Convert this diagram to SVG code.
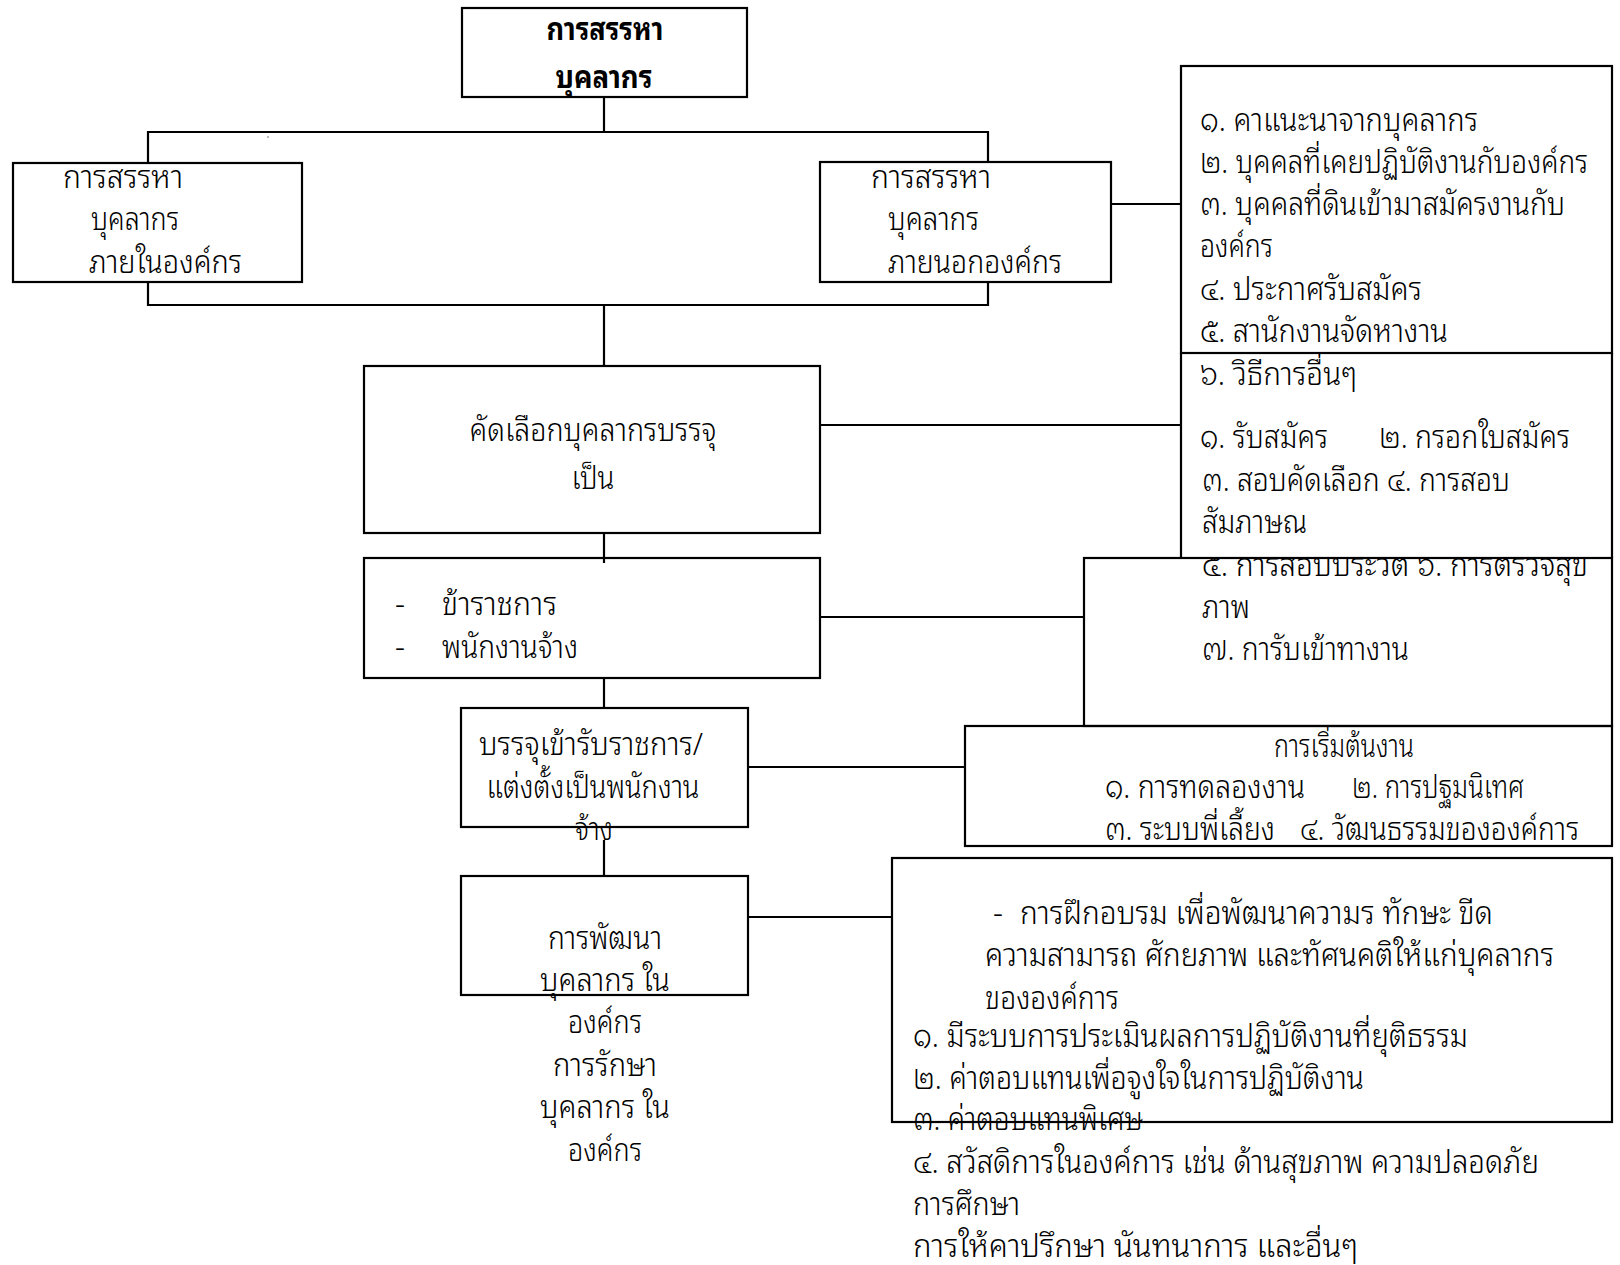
<svg xmlns="http://www.w3.org/2000/svg" width="1620" height="1265" viewBox="0 0 1620 1265">
  <style>
    .box { fill: none; stroke: #000; stroke-width: 2.2; }
    .ln { fill: none; stroke: #000; stroke-width: 2.2; }
    .t { font-family: "Noto Sans Thai Looped", "Noto Sans Thai", "Noto Sans", "DejaVu Sans", sans-serif; font-size: 31px; font-weight: 300; fill: #000; }
    .c { text-anchor: middle; }
    .b { font-weight: bold; }
  </style>
  <defs>
    <clipPath id="below-box3">
      <rect x="1180" y="559" width="440" height="40"/>
    </clipPath>
  </defs>
  <rect x="0" y="0" width="1620" height="1265" fill="#fff"/>

  <!-- connectors -->
  <g id="connectors">
    <path class="ln" d="M604 97 V132"/>
    <path class="ln" d="M148 163 V132 H988 V162"/>
    <path class="ln" d="M148 282 V305 H988 V282"/>
    <path class="ln" d="M604 305 V366"/>
    <path class="ln" d="M1111 204 H1181"/>
    <path class="ln" d="M820 425 H1181"/>
    <path class="ln" d="M604 533 V563"/>
    <path class="ln" d="M820 617 H1084"/>
    <path class="ln" d="M604 678 V708"/>
    <path class="ln" d="M748 767 H965"/>
    <path class="ln" d="M604 840 V876"/>
    <path class="ln" d="M748 917 H892"/>
    <rect x="267.5" y="136" width="1" height="2" fill="#777"/>
  </g>

  <!-- top: recruitment -->
  <g id="node-recruit">
    <rect class="box" x="462" y="8" width="285" height="89"/>
    <text class="t c b" x="605" y="40" textLength="117" lengthAdjust="spacingAndGlyphs">การสรรหา</text>
    <text class="t c b" x="604" y="88" textLength="97" lengthAdjust="spacingAndGlyphs">บุคลากร</text>
  </g>

  <!-- internal recruitment -->
  <g id="node-internal">
    <rect class="box" x="13" y="163" width="289" height="119"/>
    <text class="t" x="63" y="188" textLength="120" lengthAdjust="spacingAndGlyphs">การสรรหา</text>
    <text class="t" x="91" y="230" textLength="88" lengthAdjust="spacingAndGlyphs">บุคลากร</text>
    <text class="t" x="89" y="273" textLength="153" lengthAdjust="spacingAndGlyphs">ภายในองค์กร</text>
  </g>

  <!-- external recruitment -->
  <g id="node-external">
    <rect class="box" x="820" y="162" width="291" height="120"/>
    <text class="t" x="871" y="188" textLength="120" lengthAdjust="spacingAndGlyphs">การสรรหา</text>
    <text class="t" x="888" y="230" textLength="91" lengthAdjust="spacingAndGlyphs">บุคลากร</text>
    <text class="t" x="888" y="273" textLength="174" lengthAdjust="spacingAndGlyphs">ภายนอกองค์กร</text>
  </g>

  <!-- external sources list -->
  <g id="node-sources">
    <rect class="box" x="1181" y="66" width="431" height="287"/>
    <text class="t" x="1200" y="131" textLength="278" lengthAdjust="spacingAndGlyphs">๑. คาแนะนาจากบุคลากร</text>
    <text class="t" x="1200" y="173" textLength="388" lengthAdjust="spacingAndGlyphs">๒. บุคคลที่เคยปฏิบัติงานกับองค์กร</text>
    <text class="t" x="1200" y="215" textLength="365" lengthAdjust="spacingAndGlyphs">๓. บุคคลที่ดินเข้ามาสมัครงานกับ</text>
    <text class="t" x="1200" y="257" textLength="73" lengthAdjust="spacingAndGlyphs">องค์กร</text>
    <text class="t" x="1200" y="300" textLength="222" lengthAdjust="spacingAndGlyphs">๔. ประกาศรับสมัคร</text>
    <text class="t" x="1200" y="342" textLength="248" lengthAdjust="spacingAndGlyphs">๕. สานักงานจัดหางาน</text>
  </g>

  <!-- selection steps -->
  <g id="node-steps">
    <path class="box" d="M1181 353 V558 M1612 353 V558"/>
    <text class="t" x="1200" y="385" textLength="157" lengthAdjust="spacingAndGlyphs">๖. วิธีการอื่นๆ</text>
    <text class="t" x="1200" y="448" textLength="128" lengthAdjust="spacingAndGlyphs">๑. รับสมัคร</text>
    <text class="t" x="1379" y="448" textLength="191" lengthAdjust="spacingAndGlyphs">๒. กรอกใบสมัคร</text>
    <text class="t" x="1202" y="491" textLength="308" lengthAdjust="spacingAndGlyphs">๓. สอบคัดเลือก ๔. การสอบ</text>
    <text class="t" x="1202" y="533" textLength="105" lengthAdjust="spacingAndGlyphs">สัมภาษณ</text>
  </g>

  <!-- selection steps, continued -->
  <g id="node-steps-2">
    <rect class="box" x="1084" y="558" width="528" height="168"/>
    <text class="t" x="1202" y="576" textLength="386" lengthAdjust="spacingAndGlyphs" clip-path="url(#below-box3)">๕. การสอบประวัติ ๖. การตรวจสุข</text>
    <text class="t" x="1202" y="618" textLength="48" lengthAdjust="spacingAndGlyphs">ภาพ</text>
    <text class="t" x="1202" y="660" textLength="207" lengthAdjust="spacingAndGlyphs">๗. การับเข้าทางาน</text>
  </g>

  <!-- selection -->
  <g id="node-select">
    <rect class="box" x="364" y="366" width="456" height="167"/>
    <text class="t c" x="593" y="441" textLength="247" lengthAdjust="spacingAndGlyphs">คัดเลือกบุคลากรบรรจุ</text>
    <text class="t c" x="593" y="489" textLength="43" lengthAdjust="spacingAndGlyphs">เป็น</text>
  </g>

  <!-- staff types -->
  <g id="node-types">
    <rect class="box" x="364" y="558" width="456" height="120"/>
    <text class="t" x="395" y="615">-</text>
    <text class="t" x="442" y="615" textLength="115" lengthAdjust="spacingAndGlyphs">ข้าราชการ</text>
    <text class="t" x="395" y="658">-</text>
    <text class="t" x="442" y="658" textLength="136" lengthAdjust="spacingAndGlyphs">พนักงานจ้าง</text>
  </g>

  <!-- appointment -->
  <g id="node-appoint">
    <rect class="box" x="461" y="708" width="287" height="119"/>
    <text class="t c" x="591" y="755" textLength="224" lengthAdjust="spacingAndGlyphs">บรรจุเข้ารับราชการ/</text>
    <text class="t c" x="593" y="798" textLength="213" lengthAdjust="spacingAndGlyphs">แต่งตั้งเป็นพนักงาน</text>
    <text class="t c" x="594" y="840" textLength="38" lengthAdjust="spacingAndGlyphs">จ้าง</text>
  </g>

  <!-- onboarding -->
  <g id="node-onboard">
    <rect class="box" x="965" y="726" width="647" height="120"/>
    <text class="t c" x="1344" y="757" textLength="140" lengthAdjust="spacingAndGlyphs">การเริ่มต้นงาน</text>
    <text class="t" x="1105" y="798" textLength="200" lengthAdjust="spacingAndGlyphs">๑. การทดลองงาน</text>
    <text class="t" x="1352" y="798" textLength="172" lengthAdjust="spacingAndGlyphs">๒. การปฐมนิเทศ</text>
    <text class="t" x="1105" y="840" textLength="170" lengthAdjust="spacingAndGlyphs">๓. ระบบพี่เลี้ยง</text>
    <text class="t" x="1300" y="840" textLength="279" lengthAdjust="spacingAndGlyphs">๔. วัฒนธรรมขององค์การ</text>
  </g>

  <!-- development and retention -->
  <g id="node-develop">
    <rect class="box" x="461" y="876" width="287" height="119"/>
    <text class="t c" x="605" y="949" textLength="114" lengthAdjust="spacingAndGlyphs">การพัฒนา</text>
    <text class="t c" x="605" y="991" textLength="130" lengthAdjust="spacingAndGlyphs">บุคลากร ใน</text>
    <text class="t c" x="605" y="1033" textLength="74" lengthAdjust="spacingAndGlyphs">องค์กร</text>
    <text class="t c" x="605" y="1076" textLength="104" lengthAdjust="spacingAndGlyphs">การรักษา</text>
    <text class="t c" x="605" y="1118" textLength="130" lengthAdjust="spacingAndGlyphs">บุคลากร ใน</text>
    <text class="t c" x="605" y="1161" textLength="74" lengthAdjust="spacingAndGlyphs">องค์กร</text>
  </g>

  <!-- development and retention measures -->
  <g id="node-measures">
    <rect class="box" x="892" y="858" width="720" height="264"/>
    <text class="t" x="993" y="924">-</text>
    <text class="t" x="1020" y="924" textLength="473" lengthAdjust="spacingAndGlyphs">การฝึกอบรม  เพื่อพัฒนาความร ทักษะ ขีด</text>
    <text class="t" x="985" y="966" textLength="569" lengthAdjust="spacingAndGlyphs">ความสามารถ ศักยภาพ  และทัศนคติให้แก่บุคลากร</text>
    <text class="t" x="985" y="1009" textLength="134" lengthAdjust="spacingAndGlyphs">ขององค์การ</text>
    <text class="t" x="913" y="1047" textLength="555" lengthAdjust="spacingAndGlyphs">๑. มีระบบการประเมินผลการปฏิบัติงานที่ยุติธรรม</text>
    <text class="t" x="913" y="1089" textLength="451" lengthAdjust="spacingAndGlyphs">๒. ค่าตอบแทนเพื่อจูงใจในการปฏิบัติงาน</text>
    <text class="t" x="913" y="1130" textLength="230" lengthAdjust="spacingAndGlyphs">๓. ค่าตอบแทนพิเศษ</text>
    <text class="t" x="913" y="1173" textLength="626" lengthAdjust="spacingAndGlyphs">๔. สวัสดิการในองค์การ เช่น ด้านสุขภาพ ความปลอดภัย</text>
    <text class="t" x="913" y="1215" textLength="107" lengthAdjust="spacingAndGlyphs">การศึกษา</text>
    <text class="t" x="913" y="1257" textLength="445" lengthAdjust="spacingAndGlyphs">การให้คาปรึกษา  นันทนาการ  และอื่นๆ</text>
  </g>
</svg>
